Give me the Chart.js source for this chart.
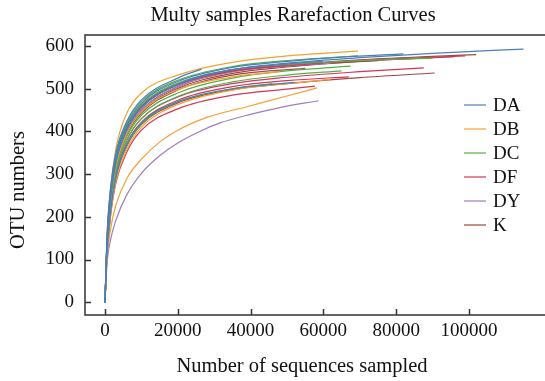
<!DOCTYPE html>
<html>
<head>
<meta charset="utf-8">
<script src="https://cdn.jsdelivr.net/npm/chart.js@4.4.1/dist/chart.umd.min.js"></script>
<style>
  html, body { margin: 0; padding: 0; background: #fff; }
  #wrap { width: 545px; height: 381px; }
</style>
</head>
<body>
<div id="wrap"><canvas id="rareChart" width="545" height="381"></canvas></div>
<script>
// rarefaction curves: [sequences sampled, OTUs]
const groupNames = ['DA', 'DB', 'DC', 'DF', 'DY', 'K'];
const groupColors = ['#4a7fb8', '#f5a033', '#55b04a', '#d3365b', '#a07cc0', '#9c4a44'];
const xTicks = [0, 20000, 40000, 60000, 80000, 100000];
const yTicks = [0, 100, 200, 300, 400, 500, 600];

const DA = [
    [[0, 0], [500, 125], [1500, 242], [3000, 327], [6000, 405], [10000, 456], [20000, 510], [35000, 545], [50000, 560], [70000, 573], [90000, 583], [115000, 593]],
    [[0, 0], [500, 135], [1500, 255], [3000, 340], [6000, 415], [10000, 466], [20000, 517], [35000, 550], [50000, 564], [65000, 574], [82000, 582]],
    [[0, 0], [500, 147], [1500, 266], [3000, 351], [6000, 424], [10000, 474], [20000, 525], [26500, 546]],
    [[0, 0], [500, 130], [1500, 245], [3000, 330], [6000, 405], [10000, 456], [20000, 510], [35000, 545], [50000, 558], [60000, 565]],
    [[0, 0], [500, 105], [1500, 210], [3000, 293], [6000, 370], [10000, 420], [20000, 470], [35000, 500], [52000, 515]]
];
const DB = [
    [[0, 0], [500, 145], [1500, 262], [3000, 360], [6000, 443], [10000, 490], [20000, 532], [35000, 562], [50000, 577], [69500, 588]],
    [[0, 0], [500, 95], [1500, 170], [3000, 228], [6000, 290], [10000, 335], [15000, 375], [20000, 403], [28000, 433], [39000, 458], [50000, 483], [58300, 502]],
    [[0, 0], [500, 125], [1500, 238], [3000, 320], [6000, 395], [10000, 446], [20000, 498], [35000, 528], [48000, 540]],
    [[0, 0], [500, 100], [1500, 202], [3000, 283], [6000, 358], [10000, 410], [20000, 463], [35000, 497], [50000, 512], [62000, 522]]
];
const DC = [
    [[0, 0], [500, 140], [1500, 260], [3000, 345], [6000, 420], [10000, 470], [20000, 520], [35000, 552], [50000, 566], [69500, 577]],
    [[0, 0], [500, 120], [1500, 232], [3000, 315], [6000, 388], [10000, 438], [20000, 490], [35000, 525], [50000, 542], [67500, 553]],
    [[0, 0], [500, 115], [1500, 225], [3000, 307], [6000, 380], [10000, 430], [20000, 482], [35000, 516], [50000, 532], [65000, 542]],
    [[0, 0], [500, 105], [1500, 210], [3000, 293], [6000, 368], [10000, 418], [20000, 469], [35000, 500], [46000, 512]],
    [[0, 0], [500, 135], [1500, 253], [3000, 337], [6000, 412], [10000, 462], [20000, 513], [35000, 545], [50000, 557], [70000, 566], [90000, 572]]
];
const DF = [
    [[0, 0], [500, 115], [1500, 225], [3000, 308], [6000, 380], [10000, 430], [20000, 481], [35000, 512], [50000, 527], [70000, 540], [87600, 549]],
    [[0, 0], [500, 100], [1500, 200], [3000, 280], [6000, 352], [10000, 403], [20000, 453], [35000, 485], [50000, 499], [57700, 506]],
    [[0, 0], [500, 110], [1500, 218], [3000, 300], [6000, 372], [10000, 422], [20000, 473], [35000, 505], [50000, 519], [67000, 528]],
    [[0, 0], [500, 130], [1500, 247], [3000, 332], [6000, 407], [10000, 458], [20000, 510], [35000, 542], [50000, 555], [70000, 566], [99000, 577]],
    [[0, 0], [500, 133], [1500, 250], [3000, 335], [6000, 410], [10000, 460], [20000, 510], [35000, 542], [50000, 554], [60000, 560]]
];
const DY = [
    [[0, 0], [500, 85], [1500, 145], [3000, 192], [6000, 252], [10000, 302], [15000, 343], [20000, 373], [26000, 400], [31600, 420], [40000, 440], [48000, 456], [58700, 472]],
    [[0, 0], [500, 125], [1500, 240], [3000, 325], [6000, 400], [10000, 450], [20000, 505], [35000, 540], [50000, 553], [62000, 560]],
    [[0, 0], [500, 135], [1500, 252], [3000, 335], [6000, 410], [10000, 460], [20000, 513], [35000, 542], [45000, 552]]
];
const K = [
    [[0, 0], [500, 125], [1500, 240], [3000, 325], [6000, 400], [10000, 450], [20000, 505], [35000, 540], [50000, 555], [70000, 568], [90000, 576], [102000, 580]],
    [[0, 0], [500, 123], [1500, 236], [3000, 321], [6000, 396], [10000, 446], [20000, 501], [35000, 536], [50000, 551], [70000, 564], [96000, 575]],
    [[0, 0], [500, 105], [1500, 210], [3000, 293], [6000, 366], [10000, 416], [20000, 467], [35000, 498], [50000, 512], [70000, 526], [90600, 537]],
    [[0, 0], [500, 130], [1500, 247], [3000, 332], [6000, 407], [10000, 456], [20000, 509], [35000, 541], [50000, 554], [75000, 566]],
    [[0, 0], [500, 120], [1500, 232], [3000, 317], [6000, 392], [10000, 443], [20000, 497], [35000, 532], [55000, 548]]
];
const groupCurves = [DA, DB, DC, DF, DY, K];

const serif = "'Liberation Serif', 'DejaVu Serif', serif";

const datasets = [];
groupCurves.forEach((curves, g) => {
    curves.forEach(curve => {
        datasets.push({
            label: groupNames[g],
            data: curve.map(p => ({ x: p[0], y: p[1] })),
            borderColor: groupColors[g],
            borderWidth: 1.2,
            pointRadius: 0,
            fill: false,
            cubicInterpolationMode: 'monotone'
        });
    });
});

// frame with inward ticks, titles and the legend, drawn over the plot
const decorations = {
    id: 'decorations',
    afterDraw(chart) {
        const ctx = chart.ctx;
        const area = chart.chartArea;
        const xs = chart.scales.x, ys = chart.scales.y;
        ctx.save();
        ctx.strokeStyle = '#333';
        ctx.lineWidth = 1.5;
        ctx.beginPath();
        ctx.moveTo(area.right, area.top);
        ctx.lineTo(area.left, area.top);
        ctx.lineTo(area.left, area.bottom);
        ctx.lineTo(area.right, area.bottom);
        xTicks.forEach(v => {
            const px = Math.round(xs.getPixelForValue(v)) + 0.5;
            ctx.moveTo(px, area.bottom);
            ctx.lineTo(px, area.bottom - 6);
        });
        yTicks.forEach(v => {
            const py = Math.round(ys.getPixelForValue(v)) + 0.5;
            ctx.moveTo(area.left, py);
            ctx.lineTo(area.left + 6, py);
        });
        ctx.stroke();

        ctx.fillStyle = '#111';
        ctx.textAlign = 'center';
        ctx.textBaseline = 'middle';
        ctx.font = '20.5px ' + serif;
        ctx.fillText('Multy samples Rarefaction Curves', 293, 16);
        ctx.fillText('Number of sequences sampled', 302, 367);
        ctx.translate(19, 190);
        ctx.rotate(-Math.PI / 2);
        ctx.fillText('OTU numbers', 0, 0);
        ctx.setTransform(1, 0, 0, 1, 0, 0);

        ctx.textAlign = 'left';
        ctx.font = '19px ' + serif;
        groupNames.forEach((name, i) => {
            const y = 105 + i * 24;
            ctx.strokeStyle = groupColors[i];
            ctx.lineWidth = 1.2;
            ctx.beginPath();
            ctx.moveTo(464, y);
            ctx.lineTo(486, y);
            ctx.stroke();
            ctx.fillStyle = '#111';
            ctx.fillText(name, 493, y + 1);
        });
        ctx.restore();
    }
};

const ctx = document.getElementById('rareChart').getContext('2d');
new Chart(ctx, {
    type: 'line',
    data: { datasets: datasets },
    options: {
        responsive: false,
        animation: false,
        devicePixelRatio: 1,
        layout: { padding: { top: 35, left: 0, right: 0, bottom: 0 } },
        plugins: {
            legend: { display: false },
            title: { display: false },
            tooltip: { enabled: false }
        },
        scales: {
            x: {
                type: 'linear',
                min: -5500,
                max: 120900,
                grid: { display: false, drawTicks: false },
                border: { display: false },
                ticks: {
                    font: { family: serif, size: 19 }, color: '#111', padding: 5, maxRotation: 0,
                    callback: v => String(v)
                },
                afterBuildTicks: scale => { scale.ticks = xTicks.map(v => ({ value: v })); },
                afterFit: scale => { scale.height = 66; }
            },
            y: {
                type: 'linear',
                min: -30,
                max: 626,
                grid: { display: false, drawTicks: false },
                border: { display: false },
                ticks: {
                    font: { family: serif, size: 19 }, color: '#111', padding: 11,
                    callback: v => String(v)
                },
                afterBuildTicks: scale => { scale.ticks = yTicks.map(v => ({ value: v })); },
                afterFit: scale => { scale.width = 85; }
            }
        }
    },
    plugins: [decorations]
});
</script>
</body>
</html>
